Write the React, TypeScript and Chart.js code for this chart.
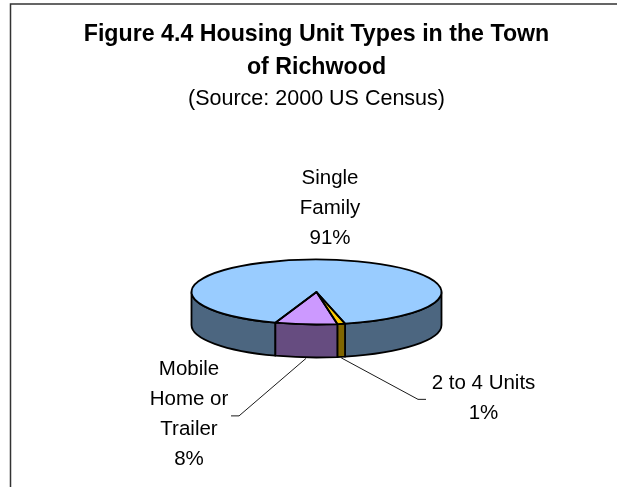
import React, { useEffect, useRef } from "react";
import { Chart, registerables } from "chart.js";

Chart.register(...registerables);

const categories = ["Single Family", "2 to 4 Units", "Mobile Home or Trailer"];
const values = [91, 1, 8];
const topColors = ["#99CCFF", "#FFCC00", "#CC99FF"];
const sideColors = ["#4C6680", "#806600", "#664C80"];
const titleLines = ["Figure 4.4 Housing Unit Types in the Town", "of Richwood"];
const subtitle = "(Source: 2000 US Census)";
const sliceLabels = [["Single", "Family", "91%"], ["2 to 4 Units", "1%"], ["Mobile", "Home or", "Trailer", "8%"]];

const SQUASH = 0.26;
const DEPTH = 33;
const FONT = "Liberation Sans, Arial, sans-serif";
const OUTLINE = 1.8;

const piePlugin = {
  id: "pie3d",
  beforeDatasetsDraw(chart: any) {
    const ctx = chart.ctx;
    const arcs = chart.getDatasetMeta(0).data;
    const a0 = arcs[0];
    const cx = a0.x, cy = a0.y, r = a0.outerRadius, ry = r * SQUASH;
    ctx.save();
    ctx.strokeStyle = "#000";
    ctx.lineWidth = OUTLINE;
    ctx.lineJoin = "round";
    arcs.forEach((arc: any, i: number) => {
      const segs: [number, number][] = [];
      const s = arc.startAngle, e = arc.endAngle;
      for (let k = -1; k <= 3; k++) {
        const lo = Math.max(s, k * 2 * Math.PI), hi = Math.min(e, k * 2 * Math.PI + Math.PI);
        if (hi > lo) segs.push([lo, hi]);
      }
      segs.forEach(([lo, hi]) => {
        ctx.beginPath();
        ctx.ellipse(cx, cy, r, ry, 0, lo, hi);
        ctx.lineTo(cx + r * Math.cos(hi), cy + ry * Math.sin(hi) + DEPTH);
        ctx.ellipse(cx, cy + DEPTH, r, ry, 0, hi, lo, true);
        ctx.closePath();
        ctx.fillStyle = sideColors[i];
        ctx.fill();
        ctx.stroke();
      });
    });
    ctx.restore();
    ctx.save();
    ctx.translate(cx, cy);
    ctx.scale(1, SQUASH);
    ctx.translate(-cx, -cy);
  },
  afterDatasetsDraw(chart: any) {
    const ctx = chart.ctx;
    ctx.restore();
    const arcs = chart.getDatasetMeta(0).data;
    const a0 = arcs[0];
    const cx = a0.x, cy = a0.y, r = a0.outerRadius, ry = r * SQUASH;
    ctx.save();
    ctx.strokeStyle = "#000";
    ctx.lineWidth = OUTLINE;
    ctx.lineJoin = "round";
    arcs.forEach((arc: any) => {
      ctx.beginPath();
      ctx.moveTo(cx, cy);
      ctx.ellipse(cx, cy, r, ry, 0, arc.startAngle, arc.endAngle);
      ctx.closePath();
      ctx.stroke();
    });
    ctx.lineWidth = 0.9;
    const leaders = [
      { i: 1, dx: 76.8, dy: 41.5, tail: 8 },
      { i: 2, dx: -67, dy: 57.5, tail: -8 },
    ];
    leaders.forEach(({ i, dx, dy, tail }) => {
      const m = (arcs[i].startAngle + arcs[i].endAngle) / 2;
      const x = cx + r * Math.cos(m), y = cy + ry * Math.sin(m) + DEPTH + 1;
      ctx.beginPath();
      ctx.moveTo(x, y);
      ctx.lineTo(x + dx, y + dy);
      ctx.lineTo(x + dx + tail, y + dy);
      ctx.stroke();
    });
    ctx.fillStyle = "#000";
    ctx.font = `20.5px ${FONT}`;
    ctx.textAlign = "center";
    ctx.textBaseline = "middle";
    const anchors = [
      { dx: 13.5, dy: -114 },
      { dx: 167, dy: 91 },
      { dx: -127.5, dy: 77 },
    ];
    sliceLabels.forEach((lines, i) => {
      lines.forEach((t, j) => {
        ctx.fillText(t, cx + anchors[i].dx, cy + anchors[i].dy + j * 30);
      });
    });
    ctx.restore();
  },
};

const framePlugin = {
  id: "frame",
  beforeDraw(chart: any) {
    const ctx = chart.ctx;
    ctx.save();
    ctx.fillStyle = "#fff";
    ctx.fillRect(0, 0, chart.width, chart.height);
    ctx.strokeStyle = "#333";
    ctx.lineWidth = 1.5;
    ctx.beginPath();
    ctx.moveTo(10.5, chart.height);
    ctx.lineTo(10.5, 4);
    ctx.lineTo(chart.width, 4);
    ctx.stroke();
    ctx.restore();
  },
};

export default function App() {
  const ref = useRef<HTMLCanvasElement>(null);
  useEffect(() => {
    document.body.style.margin = "0";
    const chart = new Chart(ref.current!, {
      type: "pie",
      data: {
        labels: categories,
        datasets: [{ data: values, backgroundColor: topColors, borderWidth: 0, hoverOffset: 0 }],
      },
      options: {
        responsive: false,
        animation: false,
        rotation: 199.2,
        layout: { padding: { left: 16, right: 0, top: 0, bottom: 70 } },
        plugins: {
          legend: { display: false },
          tooltip: { enabled: false },
          title: {
            display: true,
            text: titleLines,
            color: "#000",
            font: { family: FONT, size: 23.2, weight: "bold", lineHeight: 33 / 23.2 },
            padding: { top: 18.5, bottom: 0 },
            position: "top",
          },
          subtitle: {
            display: true,
            text: subtitle,
            color: "#000",
            font: { family: FONT, size: 21.5, weight: "normal", lineHeight: 1.2 },
            padding: { top: 1.5, bottom: 55.2 },
          },
        },
      },
      plugins: [framePlugin, piePlugin],
    } as any);
    return () => chart.destroy();
  }, []);
  return <canvas ref={ref} width={617} height={487} style={{ display: "block" }} />;
}
